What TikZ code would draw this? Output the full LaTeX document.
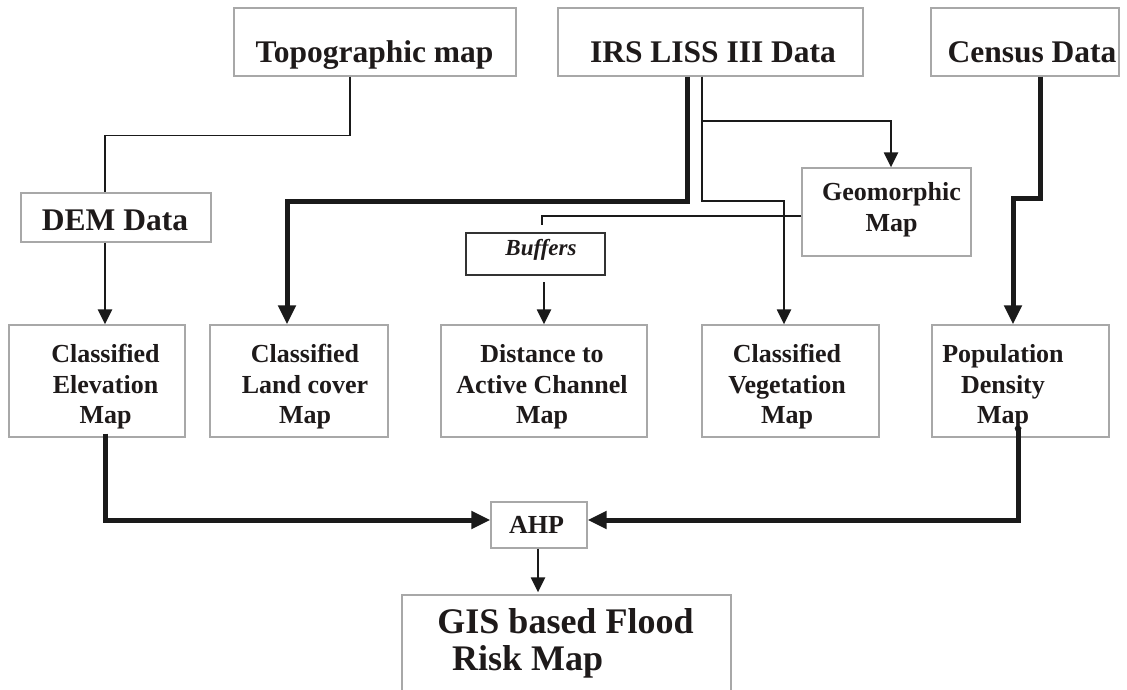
\documentclass[tikz,border=0pt]{standalone}
\usepackage{fontspec}
\setmainfont{Liberation Serif}
\usetikzlibrary{arrows.meta}
\definecolor{boxgray}{HTML}{A8A8A8}
\definecolor{linec}{HTML}{1A1A1A}
\definecolor{txtc}{HTML}{1E1A1A}
\definecolor{bufc}{HTML}{333333}
\tikzset{
  box/.style={draw=boxgray, line width=1.3pt, fill=white, inner sep=0pt},
  bufbox/.style={draw=bufc, line width=2pt, fill=white, inner sep=0pt},
  lbl/.style={anchor=base, inner sep=0pt, text=txtc},
  big/.style={lbl, font=\fontsize{31.5}{36}\selectfont\bfseries},
  mid/.style={lbl, font=\fontsize{26}{30}\selectfont\bfseries},
  huge/.style={lbl, font=\fontsize{36}{40}\selectfont\bfseries},
  lnthin/.style={draw=linec, line width=1.4pt},
  lnmid/.style={draw=linec, line width=2.3pt},
  lnthick/.style={draw=linec, line width=5pt},
  arr/.style={-{Triangle[length=15pt,width=14pt]}},
  tarr/.style={-{Triangle[length=19pt,width=17pt]}}
}
\begin{document}
\begin{tikzpicture}[x=1pt,y=-1pt]
\useasboundingbox (0,0) rectangle (1127,689);
\clip (0,0) rectangle (1127,689);
\fill[white] (0,0) rectangle (1127,689);

% boxes
\node[box, minimum width=282pt, minimum height=68pt] (topo) at (375,42) {};
\node[box, minimum width=305pt, minimum height=68pt] (irs) at (710.5,42) {};
\node[box, minimum width=188pt, minimum height=68pt] (census) at (1025,42) {};
\node[box, minimum width=190pt, minimum height=49pt] (dem) at (116,217.5) {};
\node[box, minimum width=169pt, minimum height=88pt] (geo) at (886.5,212) {};
\node[bufbox, minimum width=139pt, minimum height=42pt] (buf) at (535.5,254) {};
\node[box, minimum width=176pt, minimum height=112pt] (elev) at (97,381) {};
\node[box, minimum width=178pt, minimum height=112pt] (land) at (299,381) {};
\node[box, minimum width=206pt, minimum height=112pt] (dist) at (544,381) {};
\node[box, minimum width=177pt, minimum height=112pt] (veg) at (790.5,381) {};
\node[box, minimum width=177pt, minimum height=112pt] (pop) at (1020.5,381) {};
\node[box, minimum width=96pt, minimum height=46pt] (ahp) at (539,525) {};
\node[box, minimum width=329pt, minimum height=110pt] (gis) at (566.5,650) {};

% texts
\node[big] (topoT) at (374.5,62) {Topographic map};
\node[big] (irsT) at (713,62) {IRS LISS III Data};
\node[big] (censusT) at (1032,62) {Census Data};
\node[big] (demT) at (115,230) {DEM Data};
\node[mid] (geoT1) at (891.5,200) {Geomorphic};
\node[mid] (geoT2) at (891.5,231) {Map};
\node[lbl, font=\fontsize{23}{27}\selectfont\bfseries\itshape] (bufT) at (541,255) {Buffers};
\node[mid] (elevT1) at (105.5,362) {Classified};
\node[mid] (elevT2) at (105.5,393) {Elevation};
\node[mid] (elevT3) at (105.5,423) {Map};
\node[mid] (landT1) at (305,362) {Classified};
\node[mid] (landT2) at (305,393) {Land cover};
\node[mid] (landT3) at (305,423) {Map};
\node[mid] (distT1) at (542,362) {Distance to};
\node[mid] (distT2) at (542,393) {Active Channel};
\node[mid] (distT3) at (542,423) {Map};
\node[mid] (vegT1) at (787,362) {Classified};
\node[mid] (vegT2) at (787,393) {Vegetation};
\node[mid] (vegT3) at (787,423) {Map};
\node[mid] (popT1) at (1003,362) {Population};
\node[mid] (popT2) at (1003,393) {Density};
\node[mid] (popT3) at (1003,423) {Map};
\node[mid] (ahpT) at (536.5,533) {AHP};
\node[huge] (gisT1) at (565.5,633) {GIS based Flood};
\node[huge, anchor=base west] (gisT2) at (452,670) {Risk Map};

% connectors
\draw[lnthin] ([xshift=-25pt]topo.south) -- ++(0,59) -| ([xshift=-11pt]dem.north);
\draw[lnmid, arr] ([xshift=-11pt]dem.south) -- ([xshift=-11pt]dem.south |- elev.north);
\draw[lnthick, tarr] ([xshift=-23.5pt]irs.south) -- ++(0,125) -| ([xshift=-12pt]land.north);
\draw[lnmid, arr] ([xshift=-8.5pt]irs.south) -- ++(0,44) -| ([xshift=4.5pt]geo.north);
\draw[lnmid, arr] ([xshift=-8.5pt]irs.south) -- ++(0,124) -| ([xshift=-6.5pt]veg.north);
\draw[lnthin, shorten >=7pt] ([yshift=-4pt]geo.west) -| ([xshift=6.5pt]buf.north);
\draw[lnmid, arr, shorten <=6pt] ([xshift=8.5pt]buf.south) -- ([xshift=8.5pt]buf.south |- dist.north);
\draw[lnthick, tarr] ([xshift=15pt]census.south) -- ++(0,122) -| ([xshift=-7.5pt]pop.north);
\draw[lnthick, tarr] ([xshift=8pt,yshift=4pt]elev.south) |- ([yshift=5pt]ahp.west);
\draw[lnthick, tarr] ([xshift=-2.5pt,yshift=9pt]pop.south) |- ([yshift=5pt]ahp.east);
\fill[linec] ([xshift=-2.5pt,yshift=9pt]pop.south) circle (3.2pt);
\draw[lnmid, arr] ([xshift=-1pt]ahp.south) -- ([xshift=-1pt,yshift=2pt]ahp.south |- gis.north);
\end{tikzpicture}
\end{document}
